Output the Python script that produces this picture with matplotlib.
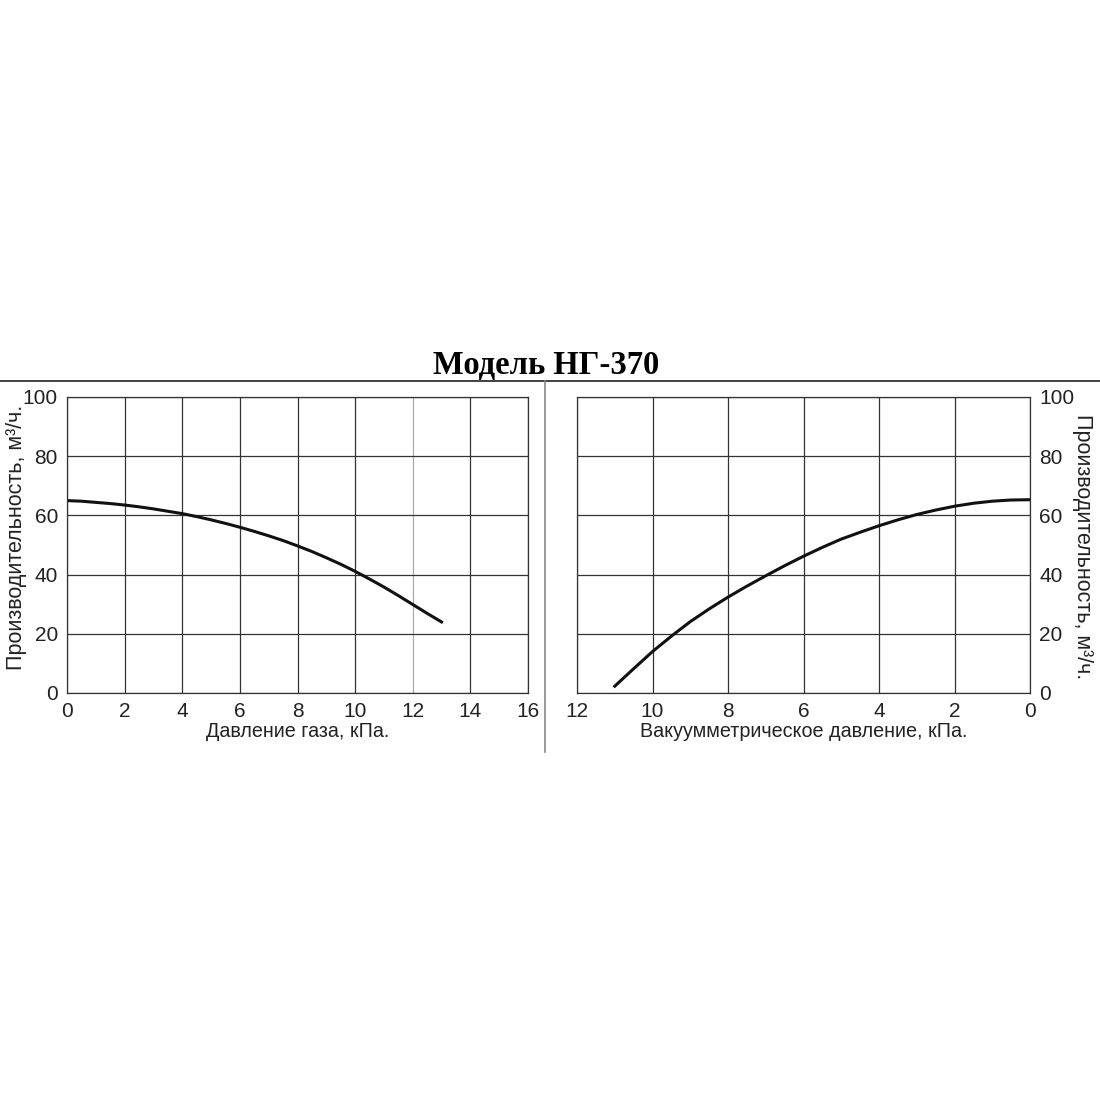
import matplotlib.pyplot as plt
from matplotlib.lines import Line2D

plt.rcParams['font.family'] = ['Liberation Sans', 'DejaVu Sans']

# gas pressure curve (left)
press_kpa = [0, 0.5, 1, 1.5, 2, 2.5, 3, 3.5, 4, 4.5, 5, 5.5, 6, 6.5, 7, 7.5, 8,
             8.5, 9, 9.5, 10, 10.5, 11, 11.5, 12, 12.5, 13]
press_flow = [65, 64.8, 64.4, 64.0, 63.5, 62.9, 62.2, 61.4, 60.6, 59.6, 58.5, 57.3,
              56.0, 54.6, 53.1, 51.5, 49.7, 47.8, 45.7, 43.5, 41.1, 38.5, 35.8,
              32.9, 29.9, 26.9, 24]

# vacuum curve (right)
vac_kpa = [0, 0.5, 1, 1.5, 2, 2.5, 3, 3.5, 4, 4.5, 5, 5.5, 6, 6.5, 7, 7.5, 8,
           8.5, 9, 9.5, 10, 10.5, 11]
vac_flow = [65.3, 65.2, 64.8, 64.1, 63.1, 61.8, 60.3, 58.5, 56.5, 54.3, 52.0, 49.2,
            46.2, 43.0, 39.6, 36.1, 32.4, 28.4, 24.1, 19.2, 14.0, 8.2, 2.3]

y_ticks = [0, 20, 40, 60, 80, 100]
left_xticks = [0, 2, 4, 6, 8, 10, 12, 14, 16]
right_xticks = [0, 2, 4, 6, 8, 10, 12]

fig = plt.figure(figsize=(11, 11), dpi=100)

W = 1100.0
ax1 = fig.add_axes([67 / W, 1 - 693 / W, 461 / W, 296 / W])
ax2 = fig.add_axes([577 / W, 1 - 693 / W, 453 / W, 296 / W])

ylab = 'Производительность, м³/ч.'

for ax, xt in ((ax1, left_xticks), (ax2, right_xticks)):
    ax.set_ylim(0, 100)
    ax.set_yticks(y_ticks)
    ax.set_xticks(xt)
    ax.tick_params(length=0, labelsize=15, colors='#222222')
    ax.tick_params(axis='x', pad=6.5)
    ax.tick_params(axis='y', pad=6.5)
    ax.grid(True, color='#333333', linewidth=0.9)
    for s in ax.spines.values():
        s.set_color('#333333')
        s.set_linewidth(0.9)

ax1.set_xlim(0, 16)
ax1.plot(press_kpa, press_flow, color='#111111', linewidth=2.2)
ax1.set_xlabel('Давление газа, кПа.', fontsize=14.2, labelpad=1, color='#222222')
ax1.set_ylabel(ylab, fontsize=15.5, color='#222222')
ax1.yaxis.set_label_coords((17 - 67) / 461, (693 - 537) / 296)
ax1.yaxis.label.set(ha='center', va='center', rotation_mode='default')
# the 12 kPa line is lighter in the original
for gl, v in zip(ax1.get_xgridlines(), left_xticks):
    if v == 12:
        gl.set_color('#aaaaaa')

ax2.set_xlim(12, 0)
ax2.plot(vac_kpa, vac_flow, color='#111111', linewidth=2.2)
ax2.yaxis.tick_right()
ax2.yaxis.set_label_position('right')
ax2.set_xlabel('Вакуумметрическое давление, кПа.', fontsize=14.2, labelpad=1, color='#222222')
ax2.set_ylabel(ylab, fontsize=15.5, rotation=270, color='#222222')
ax2.yaxis.set_label_coords((1083 - 577) / 453, (693 - 547) / 296)
ax2.yaxis.label.set(ha='center', va='center', rotation_mode='default')

fig.text(546 / W, 1 - 374 / W, 'Модель НГ-370', ha='center', va='baseline',
         fontsize=23.5, fontweight='bold', family='Liberation Serif')

fig.add_artist(Line2D([0, 1], [1 - 381 / W, 1 - 381 / W], color='#222222', linewidth=1.2))
fig.add_artist(Line2D([545 / W, 545 / W], [1 - 381 / W, 1 - 752 / W], color='#888888', linewidth=1.2))

fig.savefig('out.png', dpi=100, facecolor='white')
